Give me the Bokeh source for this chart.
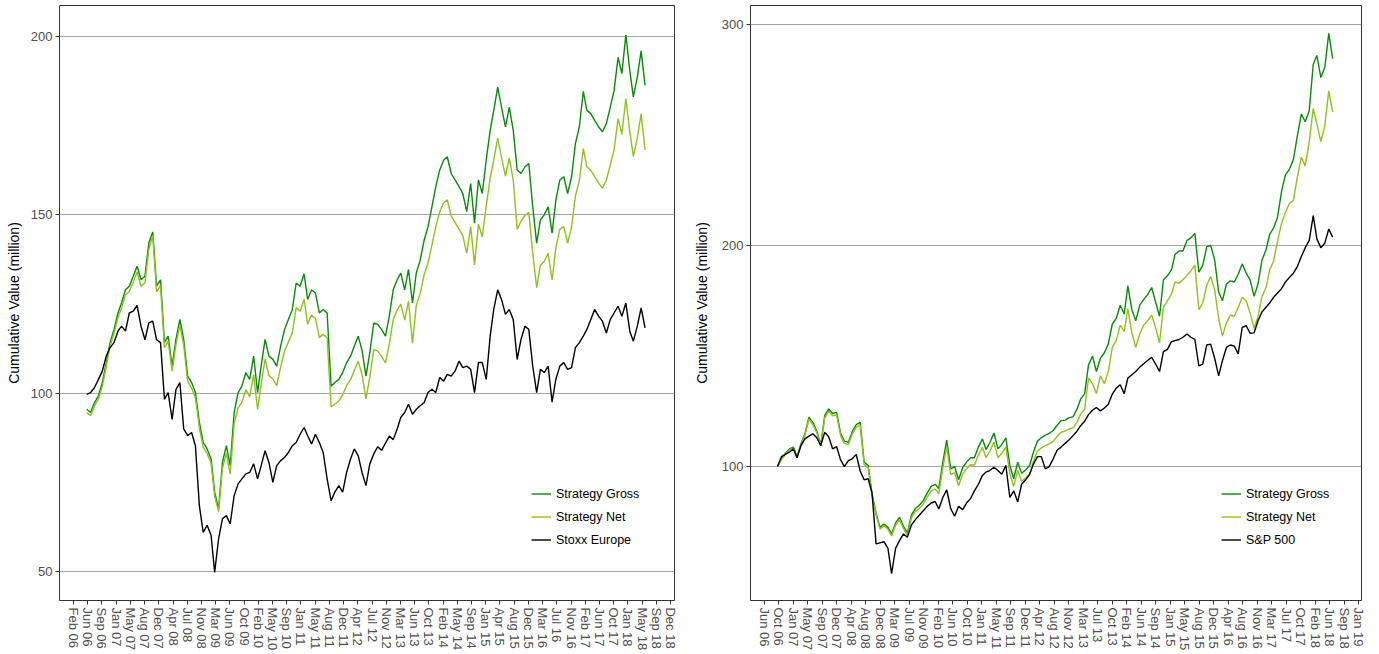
import pandas as pd
from bokeh.plotting import figure
from bokeh.layouts import row
from bokeh.models import FixedTicker, Legend, LegendItem, Range1d
from bokeh.embed import file_html
from bokeh.resources import INLINE

# ---- European book: monthly cumulative values, Jun 2006 - Jun 2018 ----
eu_start = "2006-06-01"
eu_gross = [95.5, 94.6, 97.4, 99.3, 103.0, 108.6, 114.2, 117.9, 122.5, 125.3,
            129.0, 130.0, 132.8, 135.6, 131.8, 132.8, 142.1, 145.2, 130.0, 131.8,
            114.2, 116.0, 107.6, 115.1, 120.7, 115.1, 104.8, 103.0, 100.2, 91.8,
            86.2, 84.4, 81.6, 72.3, 67.6, 80.6, 85.3, 79.7, 94.6, 100.2,
            102.0, 105.8, 103.9, 110.4, 100.2, 107.6, 115.1, 110.4, 109.5, 107.6,
            113.2, 117.9, 120.7, 123.5, 130.9, 130.0, 133.5, 126.3, 129.0, 128.1,
            122.5, 123.5, 122.5, 102.0, 103.0, 103.9, 105.8, 108.6, 110.4, 113.2,
            116.0, 112.0, 104.8, 111.4, 119.7, 119.3, 117.9, 116.0, 121.6, 129.0,
            131.8, 133.7, 129.0, 134.7, 125.3, 133.7, 137.4, 143.0, 146.7, 152.3,
            157.9, 162.6, 165.4, 166.3, 161.6, 159.8, 157.9, 156.0, 150.9, 158.8,
            147.7, 159.8, 156.0, 165.4, 173.7, 179.3, 185.8, 180.2, 174.7, 180.2,
            173.7, 162.6, 161.6, 163.5, 164.4, 152.3, 142.1, 148.6, 150.0, 152.3,
            144.9, 154.2, 159.8, 160.7, 156.0, 160.7, 170.0, 174.7, 184.6, 179.3,
            178.4, 176.5, 174.7, 173.3, 175.6, 180.2, 184.9, 194.2, 189.6, 200.5,
            190.5, 183.1, 188.6, 196.0, 186.3]
eu_net = [94.5, 93.8, 96.5, 98.4, 102.0, 107.5, 113.2, 116.8, 121.2, 124.0,
          127.5, 128.5, 131.2, 134.0, 130.0, 131.0, 140.3, 144.3, 128.5, 130.2,
          112.8, 114.6, 106.2, 113.6, 119.0, 113.5, 103.3, 101.5, 98.7, 90.4,
          84.9, 83.1, 80.3, 71.2, 66.8, 78.9, 83.2, 77.3, 91.5, 95.8,
          97.5, 101.0, 99.0, 105.2, 95.5, 102.4, 109.6, 105.0, 104.0, 102.1,
          107.4, 111.8, 114.4, 117.0, 124.0, 123.0, 126.3, 119.4, 121.9, 121.0,
          115.6, 116.5, 115.5, 96.2, 97.0, 97.8, 99.6, 102.2, 103.8, 106.4,
          109.0, 105.2, 98.4, 104.5, 112.2, 111.8, 110.4, 108.5, 113.8, 120.7,
          123.3, 125.0, 120.5, 125.8, 114.0, 124.6, 128.0, 133.3, 136.5, 141.6,
          146.7, 150.9, 153.4, 154.2, 149.7, 147.9, 146.0, 144.2, 139.3, 146.7,
          136.0, 147.4, 143.8, 152.5, 160.3, 165.4, 171.5, 166.1, 160.9, 166.0,
          159.8, 146.0, 148.2, 149.9, 150.7, 139.3, 129.6, 135.8, 137.0, 139.2,
          131.8, 140.8, 146.0, 146.7, 142.1, 146.6, 155.3, 159.5, 168.6, 163.5,
          162.5, 160.7, 158.9, 157.5, 159.7, 164.0, 168.3, 177.0, 172.6, 182.6,
          173.4, 166.4, 171.5, 178.3, 168.2]
eu_stoxx = [99.7, 100.2, 101.6, 103.9, 106.2, 110.4, 112.8, 114.2, 117.4, 118.8,
            117.4, 122.5, 123.0, 124.6, 118.8, 115.0, 119.7, 120.2, 115.0, 114.2,
            98.3, 100.2, 92.7, 101.0, 103.0, 90.0, 88.1, 89.0, 85.3, 68.5,
            61.0, 63.0, 60.2, 49.8, 59.2, 64.8, 65.7, 63.4, 71.3, 74.6,
            76.0, 77.4, 77.8, 80.2, 76.0, 79.7, 83.9, 80.6, 75.0, 79.7,
            81.1, 82.0, 83.4, 85.3, 86.2, 88.5, 90.4, 88.1, 85.8, 88.5,
            86.2, 83.4, 76.0, 69.9, 72.3, 74.1, 72.3, 77.8, 81.6, 84.4,
            82.5, 77.8, 74.1, 80.2, 83.0, 85.0, 84.0, 86.0, 88.0, 87.0,
            90.0, 93.2, 94.6, 96.9, 94.1, 95.5, 96.5, 97.4, 100.2, 101.1,
            100.2, 104.4, 103.4, 105.3, 104.8, 106.2, 109.0, 107.2, 107.6, 106.7,
            100.2, 108.6, 108.6, 103.9, 116.0, 123.5, 129.0, 126.3, 122.1, 123.5,
            120.7, 109.5, 115.1, 118.8, 117.9, 107.6, 100.2, 106.7, 105.8, 107.6,
            97.5, 104.0, 107.6, 108.6, 106.7, 107.2, 112.8, 114.2, 116.0, 117.9,
            120.7, 123.5, 121.6, 120.2, 116.9, 120.7, 122.5, 124.4, 121.6, 125.3,
            117.4, 114.6, 118.8, 123.9, 118.3]
eu_tick_labels = ["Feb 06", "Jun 06", "Sep 06", "Jan 07", "May 07", "Aug 07", "Dec 07",
                  "Apr 08", "Jul 08", "Nov 08", "Mar 09", "Jun 09", "Oct 09", "Feb 10",
                  "May 10", "Sep 10", "Jan 11", "May 11", "Aug 11", "Dec 11", "Apr 12",
                  "Jul 12", "Nov 12", "Mar 13", "Jun 13", "Oct 13", "Feb 14", "May 14",
                  "Sep 14", "Jan 15", "Apr 15", "Aug 15", "Dec 15", "Mar 16", "Jul 16",
                  "Nov 16", "Feb 17", "Jun 17", "Oct 17", "Jan 18", "May 18", "Sep 18",
                  "Dec 18"]

# ---- US book: monthly cumulative values, Oct 2006 - Jul 2018 ----
us_start = "2006-10-01"
us_gross = [100.0, 103.5, 106.0, 108.0, 108.8, 104.5, 110.3, 114.8, 122.4, 120.0,
            116.0, 110.0, 123.0, 126.1, 124.0, 124.5, 115.0, 111.5, 111.0, 115.8,
            119.0, 120.0, 102.0, 100.5, 87.6, 79.0, 72.5, 74.0, 72.5, 69.5,
            74.5, 77.0, 73.0, 70.0, 78.0, 81.0, 82.5, 84.6, 88.0, 91.0,
            92.0, 90.0, 102.0, 112.0, 99.0, 100.0, 94.0, 99.5, 102.0, 104.0,
            104.0, 108.8, 112.5, 107.7, 111.0, 115.2, 108.0, 110.0, 113.0, 100.5,
            94.5, 102.0, 97.0, 98.5, 100.5, 106.5, 111.5, 113.0, 114.2, 115.0,
            116.3, 118.7, 120.8, 121.0, 122.0, 122.5, 126.0, 130.5, 133.0, 146.0,
            150.0, 143.0, 149.0, 151.5, 155.5, 164.5, 167.0, 173.0, 169.0, 181.8,
            171.0, 166.0, 173.0, 175.5, 177.8, 181.0, 174.5, 168.0, 184.5, 186.3,
            189.0, 196.0, 197.5, 197.5, 202.3, 203.5, 205.5, 188.0, 191.0, 199.5,
            200.0, 193.5, 179.0, 175.0, 182.6, 184.0, 183.5, 187.0, 191.7, 187.5,
            184.5, 177.0, 182.6, 193.5, 198.0, 205.0, 208.0, 212.8, 224.5, 232.0,
            234.5, 239.0, 249.5, 259.5, 256.0, 261.0, 282.0, 286.0, 276.0, 280.5,
            296.0, 284.6]
us_net = [100.0, 103.0, 105.5, 107.5, 108.3, 104.0, 109.8, 114.0, 121.5, 119.0,
          115.3, 109.3, 122.0, 125.0, 123.0, 123.3, 114.0, 110.5, 110.0, 114.7,
          117.8, 118.8, 101.0, 99.5, 86.8, 78.2, 71.7, 73.2, 71.6, 68.6,
          73.5, 75.9, 71.9, 69.0, 76.8, 79.7, 81.0, 83.0, 86.2, 89.0,
          89.8, 87.8, 99.3, 109.0, 96.3, 97.2, 91.3, 96.6, 99.0, 100.8,
          100.7, 105.2, 108.7, 104.0, 107.1, 111.0, 104.1, 106.0, 108.8, 96.8,
          91.0, 98.2, 93.4, 94.8, 96.6, 102.3, 107.0, 108.4, 109.5, 110.2,
          111.4, 113.6, 115.5, 116.0, 117.0, 117.5, 120.0, 123.7, 126.0, 140.0,
          137.5, 133.0, 141.0, 137.5, 143.0, 153.9, 157.0, 164.0, 161.0, 171.5,
          160.5, 154.0, 160.0, 164.0, 166.0, 168.5, 163.0, 156.0, 172.0, 175.0,
          178.0, 183.5, 183.0, 184.5, 186.5, 188.5, 191.0, 171.0, 174.0, 182.0,
          186.0, 180.0, 167.0, 159.0, 165.0, 168.5, 168.0, 172.0, 176.6, 175.0,
          169.5, 162.5, 168.0, 177.0, 181.0, 189.0, 193.0, 202.0, 210.0, 215.0,
          219.0, 220.4, 231.0, 240.0, 236.0, 247.0, 262.0, 255.0, 247.0, 254.0,
          270.0, 260.4]
us_sp500 = [100.0, 104.5, 105.5, 106.5, 108.0, 104.0, 109.5, 112.5, 113.8, 114.8,
            113.0, 109.5, 115.5, 113.5, 108.0, 109.0, 103.0, 100.0, 102.7, 103.5,
            105.5, 98.0, 94.0, 94.5, 88.0, 65.0, 65.5, 66.0, 63.0, 51.5,
            63.0, 66.5, 69.5, 68.0, 73.5, 76.0, 78.0, 80.0, 82.0, 83.5,
            84.2, 80.8, 86.0, 89.5, 81.0, 77.5, 82.0, 80.5, 83.5, 85.5,
            89.0, 92.0, 96.0, 97.5, 98.3, 99.7, 98.2, 96.5, 100.5, 86.0,
            89.0, 84.0, 92.0, 94.0, 96.5, 101.0, 104.5, 104.5, 99.0, 100.0,
            103.5, 107.5, 108.8, 110.5, 112.0, 114.0, 116.0, 118.5, 120.5, 123.5,
            125.5, 126.7, 125.2, 126.5, 128.2, 132.8, 135.5, 137.0, 133.0, 140.0,
            141.5, 143.0, 145.0, 146.5, 148.0, 149.4, 146.5, 143.0, 152.0, 153.0,
            156.5, 157.0, 157.5, 158.5, 160.0, 158.5, 157.5, 145.5, 146.4, 155.0,
            155.4, 149.0, 141.0, 147.9, 153.9, 155.0, 154.5, 151.0, 163.0, 163.7,
            160.3, 160.5, 166.0, 170.0, 172.1, 174.0, 176.6, 178.5, 180.5, 183.5,
            185.6, 187.5, 190.5, 195.0, 199.0, 202.3, 213.5, 203.0, 199.0, 201.0,
            207.5, 203.8]
us_tick_labels = ["Jun 06", "Oct 06", "Jan 07", "May 07", "Sep 07", "Dec 07", "Apr 08",
                  "Aug 08", "Dec 08", "Mar 09", "Jul 09", "Nov 09", "Feb 10", "Jun 10",
                  "Oct 10", "Jan 11", "May 11", "Sep 11", "Dec 11", "Apr 12", "Aug 12",
                  "Nov 12", "Mar 13", "Jul 13", "Oct 13", "Feb 14", "Jun 14", "Sep 14",
                  "Jan 15", "May 15", "Aug 15", "Dec 15", "Apr 16", "Aug 16", "Nov 16",
                  "Mar 17", "Jul 17", "Oct 17", "Feb 18", "Jun 18", "Sep 18", "Jan 19"]

GROSS_COLOR = "#0a8a0a"
NET_COLOR = "#8fc21a"
BENCH_COLOR = "#000000"
FONT = "Liberation Sans"
ORIGIN = pd.Timestamp("2006-01-01")


def day_ms(days):
    """Epoch milliseconds for a day offset from 1 Jan 2006."""
    return int((ORIGIN + pd.Timedelta(days=days)).value // 10**6)


def panel(start, gross, net, bench, bench_name, tick_labels, tick_first, tick_step,
          x_days, y_lims, y_ticks, width, border_left, border_right, legend_x,
          label_standoff):
    dates = pd.date_range(start, periods=len(gross), freq="MS")
    ticks = [day_ms(tick_first + k * tick_step) for k in range(len(tick_labels))]

    p = figure(width=width, height=654, x_axis_type="datetime",
               x_range=Range1d(day_ms(x_days[0]), day_ms(x_days[1])),
               y_range=Range1d(*y_lims),
               output_backend="svg", toolbar_location=None,
               min_border_left=border_left, min_border_right=border_right,
               min_border_top=5, min_border_bottom=54,
               background_fill_color="white", border_fill_color="white")

    r_gross = p.line(dates, gross, line_color=GROSS_COLOR, line_width=1.4)
    r_net = p.line(dates, net, line_color=NET_COLOR, line_width=1.4)
    r_bench = p.line(dates, bench, line_color=BENCH_COLOR, line_width=1.4)

    p.outline_line_color = "#333333"
    p.outline_line_width = 1
    p.xgrid.visible = False
    p.ygrid.grid_line_color = "#a6a6a6"
    p.ygrid.grid_line_width = 1

    p.xaxis.ticker = FixedTicker(ticks=ticks)
    p.xaxis.major_label_overrides = {t: lab for t, lab in zip(ticks, tick_labels)}
    p.xaxis.major_label_orientation = "vertical"
    p.yaxis.ticker = FixedTicker(ticks=y_ticks)
    p.yaxis.axis_label = "Cumulative Value (million)"
    p.yaxis.axis_label_text_font = FONT
    p.yaxis.axis_label_text_font_style = "normal"
    p.yaxis.axis_label_text_font_size = "14px"
    p.yaxis.axis_label_text_color = "#000000"
    p.yaxis.axis_label_standoff = label_standoff

    for ax in (p.xaxis, p.yaxis):
        ax.axis_line_color = None
        ax.major_tick_line_color = "#333333"
        ax.major_tick_out = 4
        ax.major_tick_in = 0
        ax.minor_tick_line_color = None
        ax.major_label_text_font = FONT
        ax.major_label_text_font_size = "13px"
        ax.major_label_text_color = "#4d4d4d"
        ax.major_label_standoff = 3

    legend = Legend(items=[LegendItem(label="Strategy Gross", renderers=[r_gross]),
                           LegendItem(label="Strategy Net", renderers=[r_net]),
                           LegendItem(label=bench_name, renderers=[r_bench])],
                    location=(legend_x, 50), border_line_color=None,
                    background_fill_alpha=0, padding=0, margin=0, spacing=2,
                    glyph_width=20, glyph_height=21, label_height=21,
                    label_standoff=5, label_text_font=FONT,
                    label_text_font_size="12.5px", label_text_color="#000000")
    p.add_layout(legend)
    return p


left = panel(eu_start, eu_gross, eu_net, eu_stoxx, "Stoxx Europe", eu_tick_labels,
             47, 111.6, (-63, 4765), (41.9, 208.7), [50, 100, 150, 200],
             690, 59, 16, 472, 6)
right = panel(us_start, us_gross, us_net, us_sp500, "S&P 500", us_tick_labels,
              172, 112.0, (64.5, 4787), (39.4, 308.6), [100, 200, 300],
              689, 56, 18, 471, 9)

layout = row(left, right)
open("out.html", "w").write(file_html(layout, INLINE))
